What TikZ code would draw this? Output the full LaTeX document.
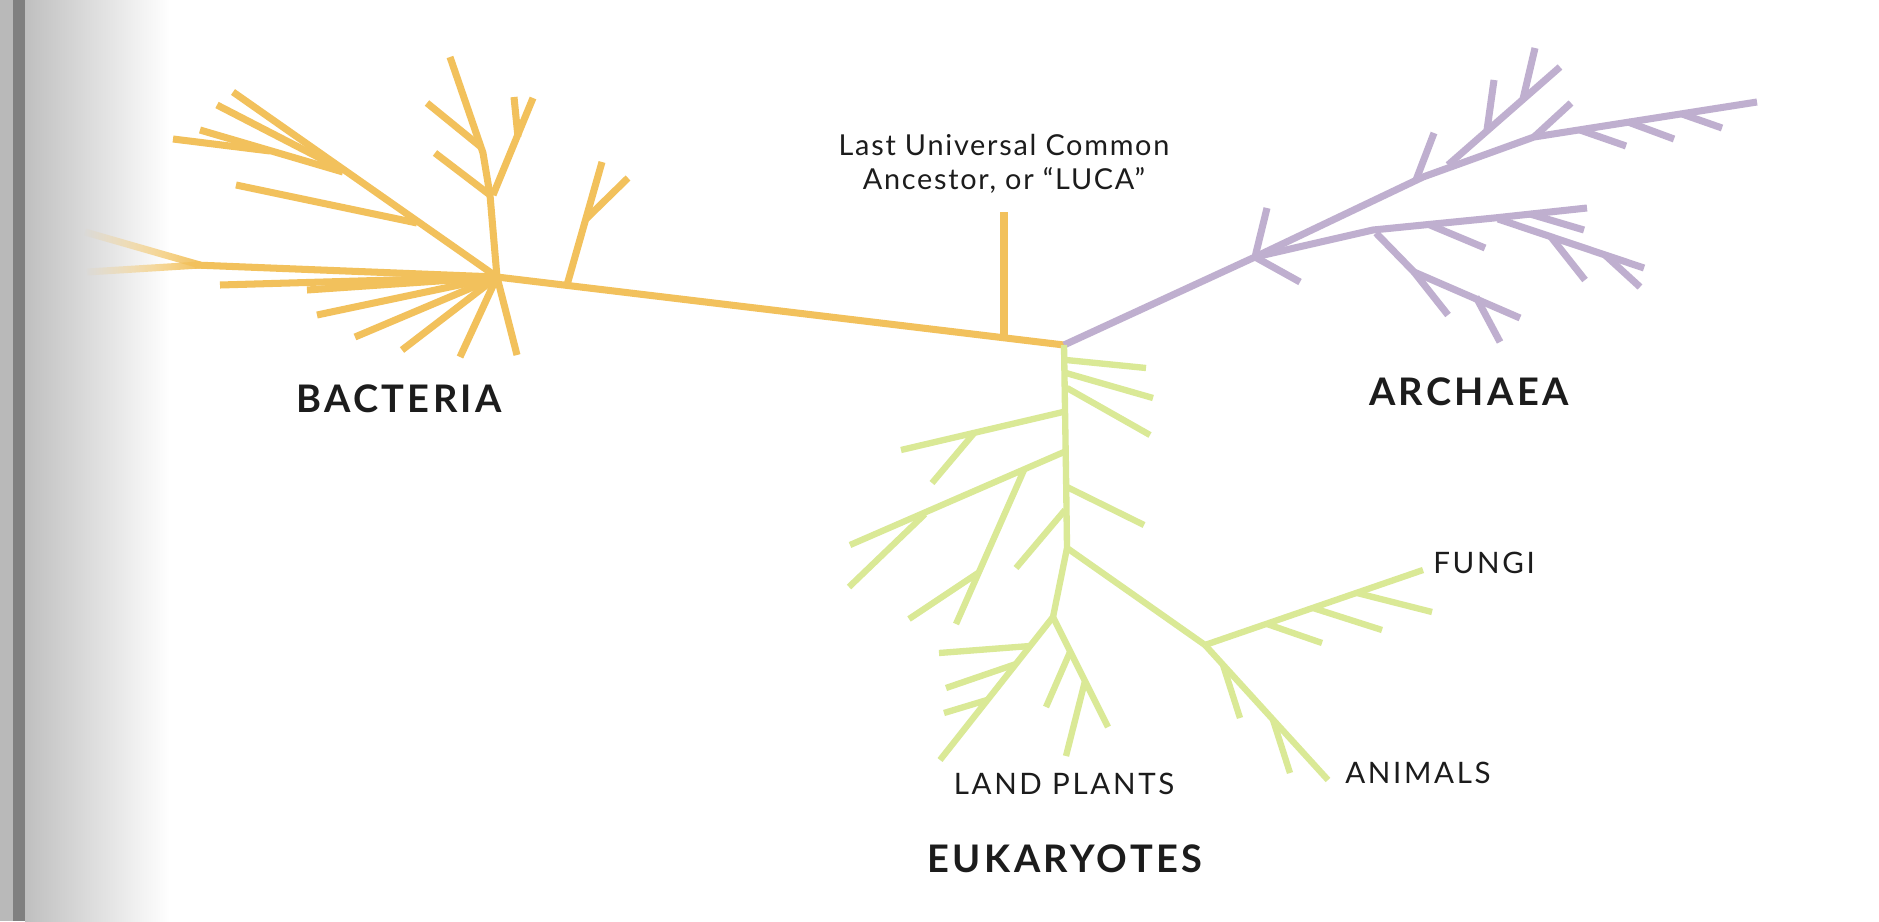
\documentclass[tikz,border=0pt]{standalone}
\usepackage{fontspec}
\setmainfont{Lato}
\usetikzlibrary{fadings}
\definecolor{bactcol}{RGB}{242,193,92}
\definecolor{archcol}{RGB}{191,175,207}
\definecolor{eukcol}{RGB}{218,233,150}
\definecolor{inkcol}{RGB}{28,28,28}

\begin{document}
\begin{tikzpicture}[
    x=0.01cm, y=-0.01cm,
    bact/.style={draw=bactcol, line width=2pt, line join=round},
    arch/.style={draw=archcol, line width=2pt, line join=round},
    euk/.style={draw=eukcol, line width=1.8pt, line join=round},
    grouplabel/.style={font=\bfseries\fontsize{10.8}{12}\selectfont\addfontfeature{LetterSpace=9}, text=inkcol, inner sep=0pt},
    leaflabel/.style={font=\fontsize{8.4}{10}\selectfont\addfontfeature{LetterSpace=9}, text=inkcol, inner sep=0pt},
    lucalabel/.style={font=\fontsize{8.2}{9.6}\selectfont\addfontfeature{LetterSpace=6}, text=inkcol, inner sep=0pt, align=center}
]

\useasboundingbox (0,0) rectangle (1879,921);
\fill[white] (0,0) rectangle (1879,921);
\fill[gray!55] (0,0) rectangle (13,921);
\fill[black!50] (13,0) rectangle (25,921);
\shade[left color=gray!50, right color=white] (25,0) rectangle (170,921);

\coordinate (luca) at (1064,345);
\coordinate (hub) at (497,277);
\coordinate (lucatop) at (1004,212);
\coordinate (lucabase) at (1004,338);
\coordinate (archfork) at (1255,257);
\coordinate (plantfork) at (1053,617);
\coordinate (animalfork) at (1205,645);

\node[lucalabel] (lucatext) at (1004,164) {Last Universal Common\\Ancestor, or “LUCA”};
\node[grouplabel] (bacteria) at (399,399) {BACTERIA};
\node[grouplabel] (archaea) at (1469,392) {ARCHAEA};
\node[grouplabel] (eukaryotes) at (1065,859) {EUKARYOTES};
\node[leaflabel] (landplants) at (1064,784) {LAND PLANTS};
\node[leaflabel] (animals) at (1418,773) {ANIMALS};
\node[leaflabel] (fungi) at (1484,563) {FUNGI};

\draw[bact] (hub) -- (luca);
\draw[bact] (lucatop) -- (lucabase);
\draw[bact] (567,285) -- (602,162);
\draw[bact] (586,219) -- (628,178);
\draw[bact] (517,355) -- (hub) -- (490,195) -- (483,153) -- (450,57);
\draw[bact] (481,147) -- (427,103);
\draw[bact] (490,195) -- (435,153);
\draw[bact] (493,195) -- (533,98);
\draw[bact] (518,137) -- (514,97);
\draw[bact] (233,92) -- (hub);
\draw[bact] (217,105) -- (343,170);
\draw[bact] (200,130) -- (343,172);
\draw[bact] (173,139) -- (270,151);
\draw[bact] (236,185) -- (417,223);
\draw[bact] (195,265) -- (hub);
\draw[bact, path fading=west] (85,232) -- (200,265);
\draw[bact, path fading=west] (87,272) -- (200,265);
\draw[bact] (220,285) -- (hub);
\draw[bact] (307,290) -- (hub);
\draw[bact] (317,315) -- (hub);
\draw[bact] (355,337) -- (hub);
\draw[bact] (402,350) -- (hub);
\draw[bact] (460,357) -- (hub);

\draw[arch] (luca) -- (archfork);
\draw[arch] (archfork) -- (1267,208);
\draw[arch] (archfork) -- (1300,282);
\draw[arch] (archfork) -- (1423,177) -- (1534,137) -- (1757,102);
\draw[arch] (1416,180) -- (1434,133);
\draw[arch] (1448,165) -- (1560,67);
\draw[arch] (1487,130) -- (1494,80);
\draw[arch] (1523,99) -- (1535,48);
\draw[arch] (1534,137) -- (1571,103);
\draw[arch] (1580,130) -- (1626,146);
\draw[arch] (1628,122) -- (1674,139);
\draw[arch] (1682,114) -- (1722,128);
\draw[arch] (archfork) -- (1373,230) -- (1494,218) -- (1587,208);
\draw[arch] (1430,225) -- (1485,248);
\draw[arch] (1530,214) -- (1584,230);
\draw[arch] (1498,219) -- (1644,268);
\draw[arch] (1551,237) -- (1585,280);
\draw[arch] (1605,255) -- (1640,287);
\draw[arch] (1376,233) -- (1414,272) -- (1520,318);
\draw[arch] (1414,272) -- (1448,315);
\draw[arch] (1476,297) -- (1500,342);

\draw[euk] (luca) -- (1066,473) -- (1067,548) -- (plantfork);
\draw[euk] (1066,360) -- (1146,368);
\draw[euk] (1066,373) -- (1153,398);
\draw[euk] (1067,388) -- (1150,435);
\draw[euk] (1067,487) -- (1144,525);
\draw[euk] (1063,412) -- (901,450);
\draw[euk] (975,432) -- (932,483);
\draw[euk] (1064,452) -- (850,545);
\draw[euk] (925,514) -- (849,587);
\draw[euk] (1024,470) -- (956,624);
\draw[euk] (978,573) -- (909,619);
\draw[euk] (1065,510) -- (1016,568);
\draw[euk] (plantfork) -- (1108,727);
\draw[euk] (1085,681) -- (1066,756);
\draw[euk] (1070,652) -- (1046,707);
\draw[euk] (plantfork) -- (940,760);
\draw[euk] (1030,646) -- (939,653);
\draw[euk] (1016,664) -- (946,688);
\draw[euk] (987,700) -- (944,713);
\draw[euk] (1067,548) -- (animalfork);
\draw[euk] (animalfork) -- (1423,570);
\draw[euk] (1267,624) -- (1322,643);
\draw[euk] (1313,608) -- (1382,630);
\draw[euk] (1357,593) -- (1432,612);
\draw[euk] (animalfork) -- (1328,780);
\draw[euk] (1223,665) -- (1240,718);
\draw[euk] (1273,720) -- (1290,773);

\end{tikzpicture}
\end{document}
